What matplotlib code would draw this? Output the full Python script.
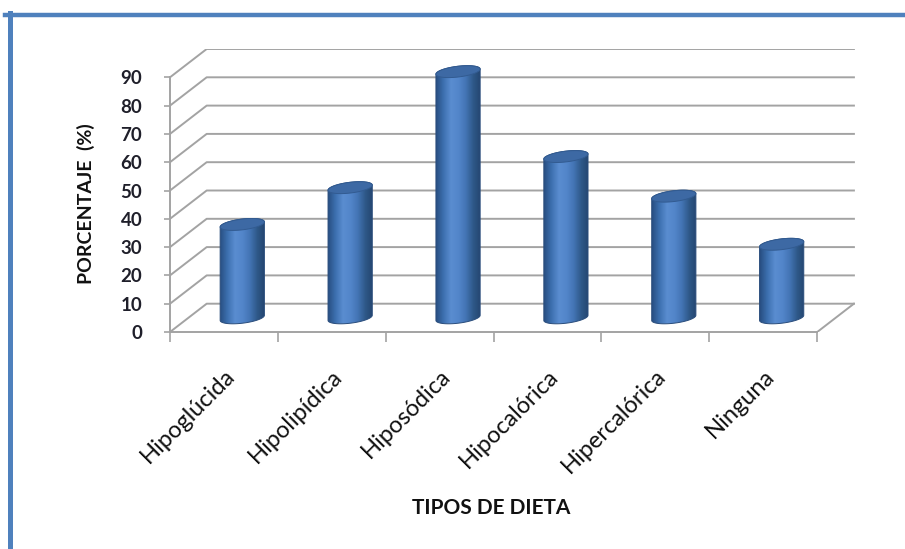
import numpy as np
import matplotlib.pyplot as plt
from matplotlib.colors import LinearSegmentedColormap
from matplotlib.patches import Polygon
from matplotlib.lines import Line2D

# Datos ----------------------------------------------------------------------------
categorias = ['Hipoglúcida', 'Hipolipídica', 'Hiposódica', 'Hipocalórica', 'Hipercalórica', 'Ninguna']
porcentajes = [33, 46, 87, 57, 43, 26]
ticks_y = list(range(0, 100, 10))

# Profundidad del efecto 3D (en unidades de categoría y de porcentaje)
prof_x = 0.34
prof_y = 10

plt.rcParams['font.family'] = ['Lato', 'DejaVu Sans']

azul_cil = LinearSegmentedColormap.from_list(
    'cil', ['#284f82', '#3d70b0', '#5a8dd0', '#5386ca', '#4374b4', '#2e5888', '#24456f'])


def cilindro(ax, cx, base, alto):
    a, b, k = 0.205, 1.9, 0.9
    tb = np.linspace(np.pi, 2 * np.pi, 60)
    tt = np.linspace(0, np.pi, 60)
    top = base + alto
    xs = np.concatenate([cx + a * np.cos(tb), cx + a * np.cos(tt)])
    ys = np.concatenate([base + b * np.sin(tb) + k * np.cos(tb),
                         top + b * np.sin(tt) + k * np.cos(tt)])
    cuerpo = Polygon(np.column_stack([xs, ys]), closed=True, facecolor='none',
                     edgecolor='#2a4d7c', lw=0.7, zorder=4)
    ax.add_patch(cuerpo)
    grad = np.linspace(0, 1, 200).reshape(1, -1)
    im = ax.imshow(grad, extent=[cx - a, cx + a, base - b - k - 1, top + b + k + 1],
                   aspect='auto', cmap=azul_cil, zorder=3, interpolation='bilinear')
    im.set_clip_path(cuerpo)
    t = np.linspace(0, 2 * np.pi, 120)
    tapa = Polygon(np.column_stack([cx + a * np.cos(t), top + b * np.sin(t) + k * np.cos(t)]),
                   closed=True, facecolor='#3d69a4', edgecolor='#325b91', lw=0.7, zorder=5)
    ax.add_patch(tapa)


fig = plt.figure(figsize=(9.05, 5.49), dpi=100)
ax = fig.add_axes([170 / 905, 217 / 549, 685 / 905, 283 / 549])
n = len(categorias)

# Paredes y suelo
gris = '#a3a3a3'
for v in ticks_y:
    ax.plot([0, prof_x, n + prof_x], [v, v + prof_y, v + prof_y], color=gris, lw=1.4, zorder=1)
ax.plot([n, n + prof_x], [0, prof_y], color=gris, lw=1.4, zorder=1)

# Cilindros
for i, p in enumerate(porcentajes):
    cilindro(ax, i + 0.5 + prof_x / 2, prof_y / 2, p)

ax.set_xlim(0, n + prof_x + 0.01)
ax.set_ylim(0, 100)

for s in ['top', 'right']:
    ax.spines[s].set_visible(False)
ax.spines['left'].set_bounds(0, 90)
ax.spines['bottom'].set_bounds(0, n)
for s in ['left', 'bottom']:
    ax.spines[s].set_color(gris)
    ax.spines[s].set_linewidth(1.4)

ax.set_yticks(ticks_y)
ax.set_yticklabels([str(v) for v in ticks_y], fontsize=13.5, fontweight='bold', color='#1f1f2a')
ax.tick_params(axis='y', length=4, width=1.2, color=gris, pad=16)

ax.set_xticks(range(n + 1))
ax.set_xticklabels([])
ax.tick_params(axis='x', which='major', length=7, width=1.2, color=gris)
ax.set_xticks([i + 0.5 for i in range(n)], minor=True)
ax.set_xticklabels(categorias, minor=True, rotation=45, ha='right', rotation_mode='anchor',
                   fontsize=17, color='#111111')
ax.tick_params(axis='x', which='minor', length=0, pad=24)

ax.set_ylabel('PORCENTAJE  (%)', fontsize=14, fontweight='bold', color='#111111')
ax.yaxis.set_label_coords(-0.11, 0.455)
ax.set_xlabel('TIPOS DE DIETA', fontsize=15, fontweight='bold', color='#111111')
ax.xaxis.set_label_coords(0.469, -0.585)

# Marco azul
fig.add_artist(Line2D([5 / 905, 1], [1 - 15 / 549, 1 - 15 / 549], color='#4f81bd', lw=3.2))
fig.add_artist(Line2D([9.5 / 905, 9.5 / 905], [0, 1 - 13 / 549], color='#4f81bd', lw=3.6))

fig.savefig('out.png', dpi=100)
